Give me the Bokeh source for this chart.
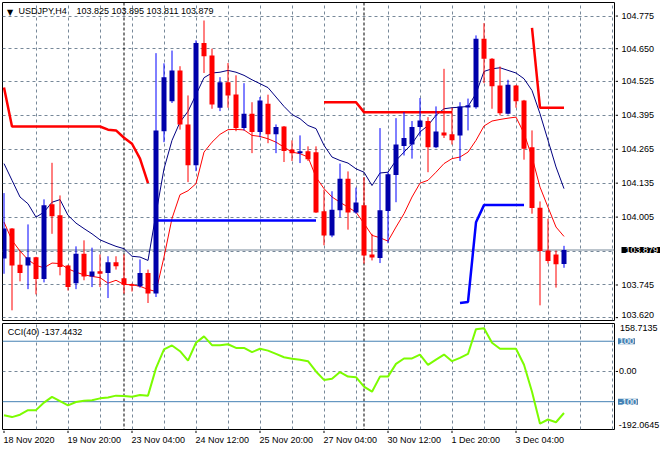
import numpy as np
from bokeh.plotting import figure
from bokeh.models import Range1d, FixedTicker, Span, Label, ColumnDataSource
from bokeh.layouts import column, row
from bokeh.embed import file_html
from bokeh.resources import INLINE

# ---------------- data (USDJPY H4) ----------------
opens = [103.846, 103.961, 103.823, 103.820, 103.851, 103.768, 104.054, 104.012, 103.820, 103.752,
         103.865, 103.778, 103.798, 103.791, 103.832, 103.771, 103.748, 103.740, 103.791, 103.712,
         104.334, 104.449, 104.567, 104.360, 104.204, 104.672, 104.624, 104.424, 104.522, 104.475,
         104.346, 104.401, 104.331, 104.439, 104.322, 104.352, 104.264, 104.250, 104.257, 104.253,
         104.027, 103.935, 104.031, 104.152, 104.023, 104.050, 103.862, 103.848, 104.028, 104.166,
         104.277, 104.283, 104.350, 104.373, 104.273, 104.329, 104.322, 104.318, 104.425, 104.426,
         104.688, 104.612, 104.509, 104.401, 104.509, 104.452, 104.273, 104.041, 103.877, 103.862, 103.825]
highs = [104.097, 103.963, 103.877, 103.977, 103.853, 104.073, 104.213, 104.088, 103.822, 103.893,
         103.916, 103.888, 103.862, 103.855, 103.855, 103.862, 103.751, 103.843, 103.804, 104.633,
         104.594, 104.643, 104.583, 104.471, 104.682, 104.758, 104.650, 104.541, 104.595, 104.548,
         104.518, 104.445, 104.465, 104.474, 104.360, 104.354, 104.299, 104.318, 104.276, 104.276,
         104.110, 104.104, 104.210, 104.180, 104.118, 104.158, 103.941, 104.346, 104.177, 104.384,
         104.407, 104.373, 104.461, 104.388, 104.429, 104.573, 104.424, 104.445, 104.459, 104.701,
         104.748, 104.614, 104.582, 104.531, 104.511, 104.454, 104.337, 104.065, 103.999, 103.877, 103.895]
lows = [103.788, 103.648, 103.759, 103.729, 103.709, 103.755, 103.941, 103.782, 103.724, 103.729,
        103.763, 103.737, 103.737, 103.695, 103.804, 103.712, 103.720, 103.735, 103.676, 103.699,
        104.292, 104.442, 104.340, 104.139, 104.181, 104.557, 104.420, 104.411, 104.424, 104.334,
        104.337, 104.250, 104.311, 104.288, 104.250, 104.216, 104.220, 104.212, 104.220, 104.021,
        103.897, 103.928, 104.005, 103.957, 104.018, 103.827, 103.839, 103.829, 103.905, 104.062,
        104.241, 104.229, 104.314, 104.177, 104.269, 104.308, 104.283, 104.220, 104.337, 104.420,
        104.518, 104.420, 104.395, 104.398, 104.424, 104.225, 104.018, 103.667, 103.827, 103.735, 103.811]
closes = [103.961, 103.820, 103.791, 103.851, 103.768, 104.050, 104.008, 103.814, 103.737, 103.865,
          103.778, 103.797, 103.788, 103.832, 103.817, 103.746, 103.742, 103.791, 103.712, 104.337,
          104.541, 104.567, 104.360, 104.204, 104.672, 104.621, 104.436, 104.522, 104.471, 104.346,
          104.401, 104.331, 104.452, 104.322, 104.350, 104.258, 104.250, 104.257, 104.227, 104.023,
          103.935, 104.033, 104.152, 104.023, 104.061, 103.858, 103.850, 104.031, 104.169, 104.283,
          104.308, 104.350, 104.375, 104.273, 104.333, 104.318, 104.299, 104.429, 104.433, 104.688,
          104.612, 104.506, 104.403, 104.512, 104.449, 104.267, 104.040, 103.875, 103.837, 103.824, 103.879]

ma_upper = [104.210, 104.146, 104.082, 104.056, 104.005, 104.024, 104.062, 104.072, 104.012, 103.982,
            103.961, 103.941, 103.918, 103.905, 103.893, 103.884, 103.855, 103.852, 103.839, 104.018,
            104.190, 104.299, 104.369, 104.410, 104.474, 104.539, 104.557, 104.560, 104.567, 104.560,
            104.548, 104.531, 104.516, 104.501, 104.465, 104.429, 104.398, 104.382, 104.356, 104.344,
            104.280, 104.235, 104.222, 104.212, 104.190, 104.177, 104.126, 104.174, 104.177, 104.222,
            104.254, 104.286, 104.331, 104.356, 104.395, 104.420, 104.424, 104.426, 104.429, 104.478,
            104.563, 104.573, 104.577, 104.567, 104.557, 104.535, 104.490, 104.401, 104.299, 104.197, 104.114]
ma_lower = [103.986, 103.916, 103.875, 103.842, 103.820, 103.811, 103.829, 103.827, 103.807, 103.794,
            103.784, 103.778, 103.773, 103.752, 103.763, 103.747, 103.746, 103.740, 103.728, 103.720,
            103.852, 104.000, 104.091, 104.106, 104.133, 104.254, 104.292, 104.322, 104.340, 104.341,
            104.339, 104.318, 104.314, 104.305, 104.292, 104.273, 104.254, 104.248, 104.235, 104.158,
            104.114, 104.082, 104.062, 104.043, 104.024, 103.981, 103.935, 103.926, 103.913, 103.967,
            104.018, 104.082, 104.135, 104.146, 104.177, 104.210, 104.229, 104.235, 104.254, 104.299,
            104.354, 104.373, 104.379, 104.384, 104.388, 104.326, 104.235, 104.120, 104.043, 103.967, 103.931]

N = None
stop_red = [104.501, 104.352, 104.352, 104.352, 104.352, 104.352, 104.352, 104.352, 104.352, 104.352,
            104.352, 104.352, 104.352, 104.340, 104.337, 104.309, 104.286, 104.229, 104.135, N,
            N, N, N, N, N, N, N, N, N, N,
            N, N, N, N, N, N, N, N, N, N,
            104.445, 104.445, 104.445, 104.445, 104.445, 104.407, 104.407, 104.407, 104.407, 104.407,
            104.407, 104.407, 104.407, 104.407, 104.407, 104.407, 104.407, N, N, N,
            N, N, N, N, N, N, 104.730, 104.424, 104.424, 104.424, 104.424]
stop_blue = [N, N, N, N, N, N, N, N, N, N,
             N, N, N, N, N, N, N, N, N, 103.992,
             103.992, 103.992, 103.992, 103.992, 103.992, 103.992, 103.992, 103.992, 103.992, 103.992,
             103.992, 103.992, 103.992, 103.992, 103.992, 103.992, 103.992, 103.992, 103.992, 103.992,
             N, N, N, N, N, N, N, N, N, N,
             N, N, N, N, N, N, N, 103.676, 103.680, 103.985,
             104.051, 104.051, 104.051, 104.051, 104.051, 104.051, N, N, N, N, N]

cci = [-145, -151, -143, -128, -128, -103, -84, -98, -112, -101,
       -97, -95, -89, -86, -80, -81, -84, -78, -80, 11,
       73, 86, 67, 36, 95, 116, 87, 87, 90, 78,
       78, 64, 75, 69, 58, 47, 42, 39, 34, 0,
       -28, -24, -2, -17, -19, -50, -67, -17, -17, 25,
       43, 43, 56, 22, 39, 56, 34, 45, 58, 140,
       143, 95, 75, 75, 75, 22, -67, -173, -159, -168, -137.4432]

time_labels = ["18 Nov 2020", "19 Nov 20:00", "23 Nov 04:00", "24 Nov 12:00", "25 Nov 20:00",
               "27 Nov 04:00", "30 Nov 12:00", "1 Dec 20:00", "3 Dec 04:00"]
week_start_bars = [15, 45]          # bars that open a new week (23 Nov, 30 Nov)
price_ticks = [103.620, 103.745, 104.005, 104.135, 104.265, 104.395, 104.525, 104.650, 104.775]
price_grid = [103.620, 103.745, 103.875, 104.005, 104.135, 104.265, 104.395, 104.525, 104.650, 104.775]
last_price = 103.879
cci_levels = [100, -100]
cci_zero = 0.0
cci_max = 158.7135
cci_min = -192.0645
symbol_text = "USDJPY,H4"
ohlc_text = "103.825 103.895 103.811 103.879"
cci_text = "CCI(40) -137.4432"

# ---------------- styling / layout ----------------
FONT = "Liberation Sans"
FS = "9px"
GRID = "#778899"
BULL_BODY = "#0000AA"
BULL_WICK = "#0000FF"
BEAR = "#FF0000"
LEVEL = "#4682B4"

W_MAIN, W_LAB = 615, 45
H_MAIN, H_CCI, H_TIME = 321, 109, 20

n = len(opens)
xs = list(range(n))
X0, X1 = -0.1875, 76.3125
Y0, Y1 = 103.609, 104.827
xr = Range1d(X0, X1)
yr_main = Range1d(Y0, Y1)
yr_cci = Range1d(cci_min, cci_max)
vgrid = list(range(4, 77, 4))
label_bars = list(range(0, 8 * len(time_labels), 8))


def base(width, height, x_range, y_range, left, right, top, bottom):
    f = figure(width=width, height=height, x_range=x_range, y_range=y_range,
               output_backend="svg", toolbar_location=None,
               x_axis_location=None, y_axis_location=None,
               min_border_left=left, min_border_right=right,
               min_border_top=top, min_border_bottom=bottom)
    f.background_fill_color = "white"
    f.border_fill_color = "white"
    return f


def chart_fig(height, yr, top, bottom, hgrid):
    f = base(W_MAIN, height, xr, yr, 2, 1, top, bottom)
    f.outline_line_color = "black"
    f.outline_line_width = 1
    f.xgrid.ticker = FixedTicker(ticks=vgrid)
    f.ygrid.ticker = FixedTicker(ticks=hgrid)
    for g in (f.xgrid, f.ygrid):
        g.grid_line_color = GRID
        g.grid_line_dash = "3 3"
        g.grid_line_width = 1
    for b in week_start_bars:
        f.add_layout(Span(location=b, dimension="height", line_color="black",
                          line_dash="3 2", line_width=1, level="underlay"))
    return f


def label_fig(height, yr, top, bottom):
    f = base(W_LAB, height, Range1d(0, W_LAB), yr, 0, 0, top, bottom)
    f.outline_line_color = None
    f.grid.visible = False
    return f


def txt(fig, **kw):
    kw.setdefault("text_font", FONT)
    kw.setdefault("text_font_size", FS)
    kw.setdefault("text_color", "black")
    kw.setdefault("text_align", "left")
    fig.add_layout(Label(**kw))


def boxed(fig, padx, **kw):
    kw.setdefault("text_font", FONT)
    kw.setdefault("text_font_size", FS)
    kw.setdefault("text_align", "left")
    kw.setdefault("text_baseline", "middle")
    lab = None
    for pad in ({"x": padx, "y": 0}, {"left": padx, "right": padx, "top": 0, "bottom": 0}, 0):
        try:
            lab = Label(padding=pad, **kw)
            break
        except Exception:
            lab = None
    if lab is None:
        lab = Label(**kw)
    fig.add_layout(lab)


# ---------------- main price panel ----------------
p = chart_fig(H_MAIN, yr_main, 2, 1, price_grid)
p.add_layout(Span(location=last_price, dimension="width", line_color=GRID,
                  line_width=1, level="underlay"))

p.line(xs, ma_upper, line_color="#000080", line_width=1)
p.line(xs, ma_lower, line_color="#FF0000", line_width=1)
p.line(xs, np.array(stop_red, dtype=float), line_color="#FF0000", line_width=2.5)
p.line(xs, np.array(stop_blue, dtype=float), line_color="#0000FF", line_width=2.5)

bull = [c > o for o, c in zip(opens, closes)]
src = ColumnDataSource(dict(
    x=xs, open=opens, high=highs, low=lows, close=closes,
    top=[max(o, c) for o, c in zip(opens, closes)],
    bottom=[min(o, c) for o, c in zip(opens, closes)],
    body=[BULL_BODY if b else BEAR for b in bull],
    wick=[BULL_WICK if b else BEAR for b in bull],
))
p.segment(x0="x", y0="low", x1="x", y1="high", line_color="wick", line_width=1, source=src)
p.vbar(x="x", width=0.625, top="top", bottom="bottom", fill_color="body", line_color=None, source=src)

txt(p, x=X0, y=Y1, x_offset=4.5, y_offset=-5, text="\u25bc", text_font="DejaVu Sans",
    text_font_size="8px", text_baseline="top")
txt(p, x=X0, y=Y1, x_offset=16, y_offset=-3, text=symbol_text, text_baseline="top")
txt(p, x=X0, y=Y1, x_offset=74, y_offset=-3, text=ohlc_text, text_baseline="top")

# price scale on the right
pl = label_fig(H_MAIN, yr_main, 2, 1)
pl.segment(x0=0, x1=2.5, y0=price_ticks, y1=price_ticks, line_color="black", line_width=1)
for t in price_ticks:
    txt(pl, x=6, y=t, y_offset=(2.5 if t == min(price_ticks) else 0),
        text=f"{t:.3f}", text_baseline="middle")
boxed(pl, 4, x=6, y=last_price, text=f"{last_price:.3f}", text_color="white",
      background_fill_color="black")

# ---------------- CCI panel ----------------
c = chart_fig(H_CCI, yr_cci, 2, 1, [cci_zero])
for lv in cci_levels:
    c.add_layout(Span(location=lv, dimension="width", line_color=LEVEL,
                      line_width=1, level="underlay"))
c.line(xs, cci, line_color="#7CFC00", line_width=2)
txt(c, x=X0, y=cci_max, x_offset=5.3, y_offset=-3.5, text=cci_text, text_baseline="top")

cl = label_fig(H_CCI, yr_cci, 2, 1)
cl.segment(x0=0, x1=2.5, y0=[cci_zero], y1=[cci_zero], line_color="black", line_width=1)
txt(cl, x=4.5, y=cci_max, y_offset=-1, text=f"{cci_max:.4f}", text_baseline="top")
txt(cl, x=3.5, y=cci_zero, text=f"{cci_zero:.2f}", text_baseline="middle")
txt(cl, x=3.3, y=cci_min, y_offset=1.5, text=f"{cci_min:.4f}", text_baseline="bottom")
for lv in cci_levels:
    boxed(cl, 1, x=2.5, y=lv, text=str(lv), text_color="white", background_fill_color=LEVEL)

# ---------------- time scale ----------------
tf = base(W_MAIN, H_TIME, xr, Range1d(0, H_TIME), 2, 1, 0, 0)
tf.outline_line_color = None
tf.grid.visible = False
tf.segment(x0=label_bars, x1=label_bars, y0=H_TIME, y1=H_TIME - 2.5, line_color="black", line_width=1)
for b, t in zip(label_bars, time_labels):
    txt(tf, x=b, y=H_TIME, x_offset=-0.5, y_offset=-4, text=t, text_baseline="top")

layout = column(row(p, pl), row(c, cl), tf)
open("out.html", "w").write(file_html(layout, INLINE))
